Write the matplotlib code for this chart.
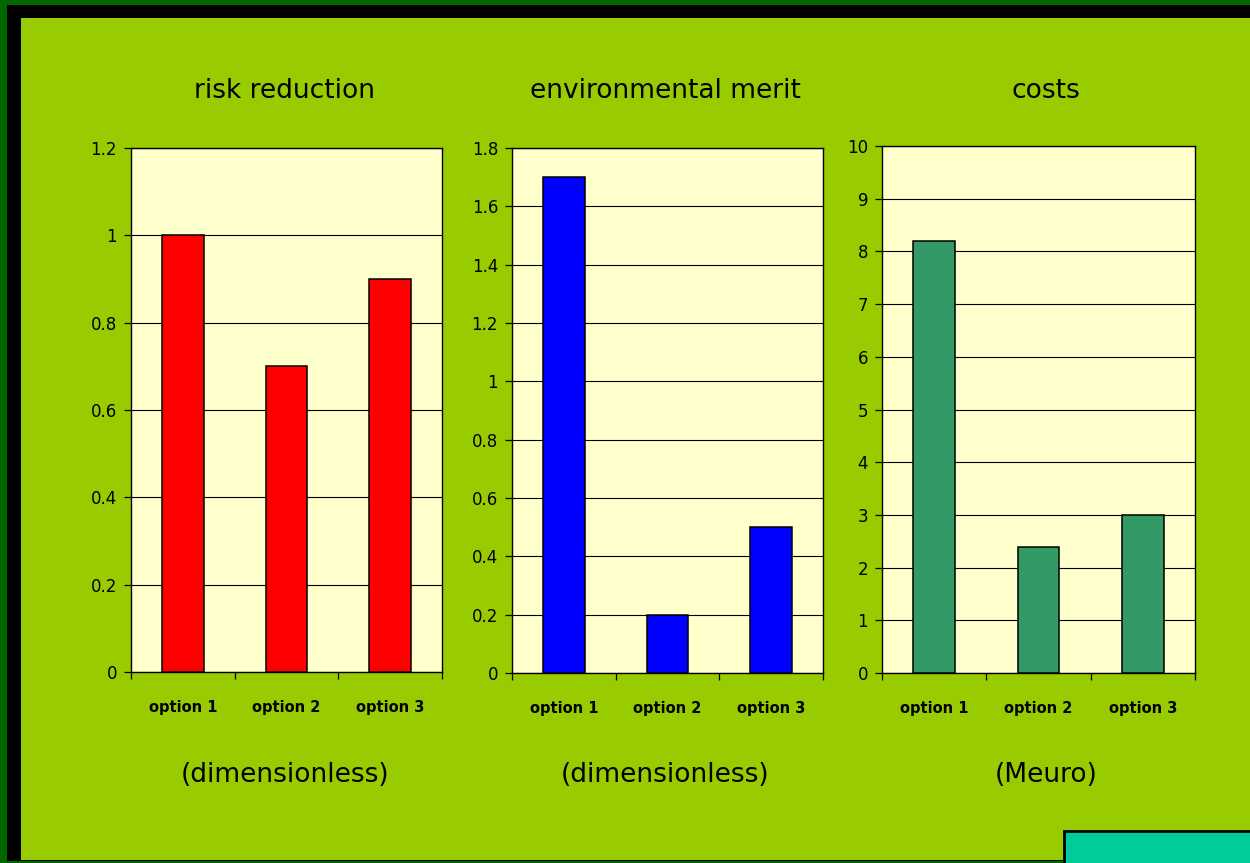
import matplotlib.pyplot as plt
from matplotlib.patches import Rectangle
from matplotlib.ticker import FixedLocator

options = ['option 1', 'option 2', 'option 3']
risk_reduction = [1.0, 0.7, 0.9]
environmental_merit = [1.7, 0.2, 0.5]
costs = [8.2, 2.4, 3.0]

titles = ['risk reduction', 'environmental merit', 'costs']
units = ['(dimensionless)', '(dimensionless)', '(Meuro)']
y_ticks = [
    [0, 0.2, 0.4, 0.6, 0.8, 1, 1.2],
    [0, 0.2, 0.4, 0.6, 0.8, 1, 1.2, 1.4, 1.6, 1.8],
    [0, 1, 2, 3, 4, 5, 6, 7, 8, 9, 10],
]
bar_colors = ['#FF0000', '#0000FF', '#339966']

W, H = 1250, 863
fig = plt.figure(figsize=(W / 100, H / 100), dpi=100, facecolor='#006600')


def px_rect(x0, y0, x1, y1, **kw):
    # rectangle given in pixel coordinates measured from the top-left corner
    r = Rectangle((x0 / W, 1 - y1 / H), (x1 - x0) / W, (y1 - y0) / H,
                  transform=fig.transFigure, zorder=-5, **kw)
    fig.add_artist(r)


px_rect(7, 5, W, 861, facecolor='black', edgecolor='none')
px_rect(21, 18, W, 860, facecolor='#99CC00', edgecolor='none')
px_rect(1064, 831, W + 5, 870, facecolor='#00CC99', edgecolor='black', linewidth=2)

# plot-area boxes (left, top, right, bottom) in pixels, plus text centres
boxes = [(131, 148, 442, 672), (512, 148, 823, 673), (882, 146, 1195, 673)]
text_x = [285, 665, 1046]
series = [risk_reduction, environmental_merit, costs]

for i, (box, vals) in enumerate(zip(boxes, series)):
    l, t, r, b = box
    ax = fig.add_axes([l / W, 1 - b / H, (r - l) / W, (b - t) / H])
    ax.set_facecolor('#FFFFCC')
    x = range(len(options))
    ax.bar(x, vals, width=0.4, color=bar_colors[i], edgecolor='black',
           linewidth=1.1, zorder=3)
    ax.set_xlim(-0.5, 2.5)
    ax.set_ylim(y_ticks[i][0], y_ticks[i][-1])
    ax.set_yticks(y_ticks[i])
    ax.set_yticklabels([f'{v:g}' for v in y_ticks[i]], fontsize=12)
    ax.yaxis.grid(True, color='black', linewidth=0.8, zorder=1)
    ax.set_axisbelow(True)
    ax.set_xticks(list(x))
    ax.set_xticklabels(options, fontsize=10.5, fontweight='bold')
    ax.tick_params(axis='x', which='major', length=0, pad=20)
    ax.xaxis.set_minor_locator(FixedLocator([-0.5, 0.5, 1.5, 2.5]))
    ax.tick_params(axis='x', which='minor', length=5, width=0.9, color='black')
    ax.tick_params(axis='y', length=5, width=0.9, color='black', pad=5)
    for s in ax.spines.values():
        s.set_color('black')
        s.set_linewidth(1.0)

    cx = text_x[i] / W
    fig.text(cx, 1 - 91 / H, titles[i], ha='center', va='center', fontsize=19)
    fig.text(cx, 1 - 775 / H, units[i], ha='center', va='center', fontsize=19)

fig.savefig('out.png', dpi=100, facecolor=fig.get_facecolor())
